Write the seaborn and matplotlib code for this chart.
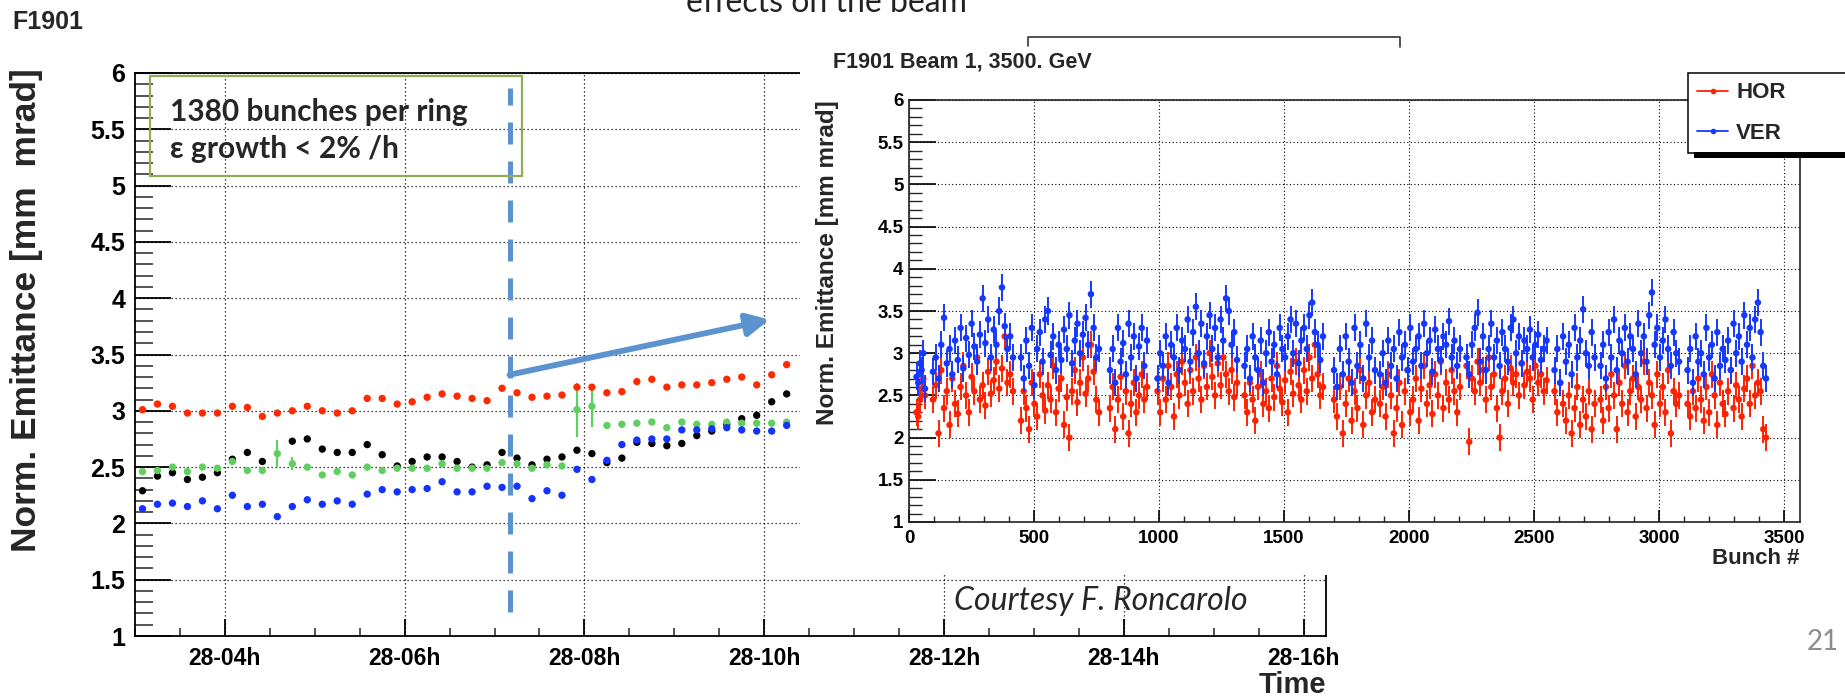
import numpy as np
import pandas as pd
import matplotlib
matplotlib.use("Agg")
import matplotlib.pyplot as plt
import seaborn as sns
from matplotlib.patches import Rectangle
from matplotlib.lines import Line2D
from matplotlib.ticker import MultipleLocator, FixedLocator, FixedFormatter, FuncFormatter

sns.set_theme(style="white")
plt.rcParams['font.family'] = ['Liberation Sans', 'DejaVu Sans']
plt.rcParams['font.weight'] = 'bold'
plt.rcParams['axes.labelweight'] = 'bold'

# ---------------- left plot data: emittance vs time ----------------
time_labels = ["03:05", "03:15", "03:25", "03:35", "03:45", "03:55", "04:05", "04:15", "04:25", "04:35",
               "04:45", "04:55", "05:05", "05:15", "05:25", "05:35", "05:45", "05:55", "06:05", "06:15",
               "06:25", "06:35", "06:45", "06:55", "07:05", "07:15", "07:25", "07:35", "07:45", "07:55",
               "08:05", "08:15", "08:25", "08:35", "08:45", "08:55", "09:05", "09:15", "09:25", "09:35",
               "09:45", "09:55", "10:05", "10:15"]
emit_red = [3.01, 3.06, 3.04, 2.98, 2.98, 2.98, 3.04, 3.03, 2.95, 2.98, 3.00, 3.04, 3.00, 2.98, 3.00,
            3.11, 3.11, 3.06, 3.08, 3.12, 3.15, 3.13, 3.11, 3.09, 3.20, 3.16, 3.12, 3.13, 3.14, 3.21,
            3.21, 3.16, 3.17, 3.26, 3.28, 3.21, 3.23, 3.23, 3.25, 3.28, 3.30, 3.23, 3.32, 3.41]
emit_black = [2.29, 2.42, 2.45, 2.39, 2.41, 2.45, 2.57, 2.63, 2.55, np.nan, 2.73, 2.75, 2.66, 2.63, 2.63,
              2.70, 2.61, 2.51, 2.55, 2.59, 2.59, 2.55, 2.50, 2.52, 2.63, 2.58, 2.52, 2.57, 2.59, 2.65,
              2.62, 2.54, 2.58, 2.72, 2.71, 2.69, 2.71, 2.78, 2.82, 2.88, 2.93, 2.96, 3.08, 3.15]
emit_green = [2.46, 2.47, 2.50, 2.46, 2.50, 2.49, 2.55, 2.47, 2.47, 2.62, 2.53, 2.50, 2.43, 2.46, 2.43,
              2.50, 2.47, 2.49, 2.49, 2.49, 2.53, 2.49, 2.49, 2.49, 2.54, 2.53, 2.49, 2.52, 2.51, 3.01,
              3.04, 2.87, 2.88, 2.89, 2.90, 2.85, 2.90, 2.88, 2.88, 2.90, 2.89, 2.89, 2.89, 2.90]
emit_green_err = [0, 0, 0, 0, 0, 0, 0, 0, 0, 0.12, 0.06, 0, 0, 0, 0, 0, 0, 0, 0, 0, 0, 0, 0, 0, 0, 0,
                  0, 0, 0, 0.24, 0.18, 0, 0, 0, 0, 0, 0, 0, 0, 0, 0, 0, 0, 0]
emit_blue = [2.13, 2.17, 2.18, 2.15, 2.20, 2.13, 2.25, 2.15, 2.17, 2.06, 2.15, 2.21, 2.17, 2.20, 2.17,
             2.26, 2.30, 2.28, 2.30, 2.31, 2.37, 2.28, 2.28, 2.33, 2.32, 2.33, 2.22, 2.29, 2.25, 2.48,
             2.39, 2.56, 2.70, 2.74, 2.75, 2.75, 2.83, 2.83, 2.84, 2.85, 2.83, 2.82, 2.82, 2.87]
time_ticks = [4, 6, 8, 10, 12, 14, 16]
time_tick_labels = ["28-04h", "28-06h", "28-08h", "28-10h", "28-12h", "28-14h", "28-16h"]
marker_time = "07:10"

# ---------------- right plot data: emittance per bunch ----------------
train_first = [30, 96, 448, 804, 994, 1342, 1700, 1884, 2230, 2582, 2766, 3114]
train_last = [64, 416, 760, 952, 1312, 1656, 1864, 2204, 2550, 2742, 3080, 3428]

ver_t0 = [2.72, 2.65, 2.88, 2.80, 3.00, 2.58]
hor_t0 = [2.30, 2.25, 2.45, 2.58, 2.70, 2.50]
ver_t1 = [2.78, 2.95, 2.70, 3.10, 3.42, 2.88, 3.05, 2.75, 3.15, 2.92, 3.30, 2.82, 3.18, 2.98, 3.35,
          3.08, 2.90, 3.22, 3.65, 3.12, 3.40, 2.95, 3.28, 3.10, 3.50, 3.78, 3.32, 3.05, 3.20, 2.95]
hor_t1 = [2.45, 2.62, 2.05, 2.80, 2.35, 2.55, 2.15, 2.70, 2.40, 2.28, 2.60, 2.85, 2.50, 2.30, 2.72,
          2.55, 2.95, 2.45, 2.62, 2.38, 2.78, 2.52, 2.68, 2.90, 2.58, 2.82, 3.20, 2.65, 2.75, 2.55]
ver_t2 = [2.95, 2.70, 3.15, 2.85, 3.30, 2.62, 3.05, 3.25, 2.90, 3.40, 3.50, 2.98, 3.20, 2.80, 3.10,
          2.92, 3.28, 3.05, 3.45, 2.88, 3.15, 3.35, 3.00, 3.22, 3.42, 3.10, 3.70, 3.30, 2.95, 3.05]
hor_t2 = [2.20, 2.55, 2.35, 2.10, 2.65, 2.40, 2.25, 2.75, 2.50, 2.32, 2.62, 2.45, 2.85, 2.30, 2.58,
          2.70, 2.15, 2.48, 2.00, 2.55, 2.80, 2.42, 2.65, 2.95, 2.52, 2.70, 3.10, 2.78, 2.45, 2.30]
ver_t3 = [2.80, 3.05, 2.65, 3.30, 2.90, 3.12, 2.75, 3.35, 2.95, 3.20, 2.70, 3.08, 3.30, 2.85, 3.15]
hor_t3 = [2.35, 2.60, 2.10, 2.45, 2.72, 2.25, 2.55, 2.05, 2.40, 2.65, 2.30, 2.50, 2.75, 2.45, 2.60]
ver_t4 = [2.70, 3.00, 2.85, 3.20, 2.65, 3.10, 2.95, 3.30, 2.80, 3.15, 3.05, 3.40, 2.90, 3.25, 3.55,
          3.00, 3.35, 2.88, 3.20, 3.45, 3.05, 3.30, 2.95, 3.40, 3.15, 3.65, 3.50, 3.10, 3.25, 2.92]
hor_t4 = [2.55, 2.30, 2.70, 2.45, 2.85, 2.60, 2.25, 2.75, 2.50, 2.90, 2.65, 2.40, 2.80, 2.55, 2.95,
          2.70, 2.45, 2.85, 2.60, 3.00, 2.72, 2.50, 2.88, 2.62, 2.95, 2.75, 2.55, 2.80, 2.48, 2.65]
ver_t5 = [2.85, 3.05, 2.70, 3.20, 2.95, 2.80, 3.15, 2.65, 3.00, 3.25, 2.90, 3.10, 2.75, 3.30, 3.05,
          2.95, 3.20, 3.40, 3.00, 3.35, 2.88, 3.15, 3.30, 3.05, 3.45, 3.60, 3.25, 3.10, 2.92, 3.20]
hor_t5 = [2.50, 2.30, 2.65, 2.45, 2.20, 2.60, 2.75, 2.40, 2.55, 2.35, 2.70, 2.48, 2.85, 2.58, 2.42,
          2.68, 2.30, 2.78, 2.52, 2.90, 2.62, 2.45, 2.80, 2.55, 2.95, 2.70, 3.10, 2.75, 2.50, 2.60]
ver_t6 = [2.80, 2.60, 3.05, 2.75, 3.20, 2.90, 2.65, 3.30, 2.85, 3.10, 2.70, 3.35, 2.95, 3.15, 2.80]
hor_t6 = [2.45, 2.25, 2.60, 2.05, 2.40, 2.70, 2.20, 2.55, 2.35, 2.80, 2.15, 2.50, 2.65, 2.30, 2.45]
ver_t7 = [2.75, 3.00, 2.65, 3.15, 2.85, 3.05, 2.70, 3.25, 2.95, 3.10, 2.80, 3.30, 2.90, 3.05, 3.20,
          2.85, 3.35, 3.00, 3.15, 2.78, 3.28, 3.05, 2.92, 3.20, 3.10, 3.38, 2.95, 3.15, 2.85, 3.05]
hor_t7 = [2.40, 2.60, 2.25, 2.75, 2.50, 2.05, 2.35, 2.65, 2.15, 2.55, 2.80, 2.30, 2.45, 2.70, 2.20,
          2.58, 2.85, 2.40, 2.62, 2.28, 2.75, 2.50, 2.90, 2.35, 2.65, 2.45, 2.80, 2.55, 2.30, 2.60]
ver_t8 = [2.95, 2.75, 3.10, 3.30, 3.48, 2.90, 3.20, 2.80, 3.05, 3.35, 2.95, 3.15, 2.85, 3.25, 3.05,
          2.90, 3.30, 3.40, 3.00, 3.20, 2.88, 3.15, 3.05, 3.28, 2.95, 3.10, 3.22, 2.92, 3.05, 3.15]
hor_t8 = [2.85, 1.95, 2.70, 2.55, 2.90, 2.65, 2.80, 2.45, 2.95, 2.60, 2.75, 2.35, 2.00, 2.55, 2.70,
          2.40, 2.82, 2.65, 2.75, 2.50, 2.88, 2.62, 2.78, 2.70, 2.45, 2.85, 2.65, 2.75, 2.55, 2.68]
ver_t9 = [2.80, 3.05, 2.65, 3.20, 2.90, 3.10, 2.75, 3.30, 2.95, 3.15, 3.52, 3.00, 2.85, 3.25, 2.95]
hor_t9 = [2.55, 2.30, 2.65, 2.40, 2.20, 2.50, 2.05, 2.35, 2.60, 2.15, 2.45, 2.25, 2.55, 2.10, 2.40]
ver_t10 = [2.85, 3.10, 2.70, 3.25, 2.95, 3.40, 2.80, 3.15, 3.00, 3.30, 2.90, 3.20, 3.05, 2.75, 3.35,
           3.00, 3.20, 2.90, 3.45, 3.72, 3.10, 3.30, 2.95, 3.15, 3.40, 3.05, 2.85, 3.25, 3.00, 2.90]
hor_t10 = [2.45, 2.20, 2.60, 2.35, 2.75, 2.50, 2.10, 2.65, 2.40, 2.85, 2.30, 2.55, 2.70, 2.25, 2.60,
           2.45, 2.90, 2.35, 2.65, 2.50, 2.15, 2.75, 2.40, 2.60, 2.30, 2.80, 2.05, 2.55, 2.40, 2.50]
ver_t11 = [2.80, 3.05, 2.65, 3.20, 2.90, 3.00, 2.75, 3.30, 2.95, 3.10, 2.70, 3.25, 2.85, 3.05, 2.92,
           3.15, 2.80, 3.35, 3.00, 3.20, 2.90, 3.45, 3.10, 3.30, 2.95, 3.40, 3.60, 3.25, 2.85, 2.70]
hor_t11 = [2.40, 2.25, 2.55, 2.35, 2.70, 2.45, 2.20, 2.60, 2.30, 2.75, 2.50, 2.15, 2.65, 2.40, 2.28,
           2.55, 2.80, 2.35, 2.62, 2.45, 2.25, 2.58, 2.70, 2.40, 2.85, 2.50, 2.65, 2.55, 2.10, 2.00]
hor_err = 0.16
ver_err = 0.16

ver_trains = [ver_t0, ver_t1, ver_t2, ver_t3, ver_t4, ver_t5, ver_t6, ver_t7, ver_t8, ver_t9, ver_t10, ver_t11]
hor_trains = [hor_t0, hor_t1, hor_t2, hor_t3, hor_t4, hor_t5, hor_t6, hor_t7, hor_t8, hor_t9, hor_t10, hor_t11]

# ---------------- styling ----------------
W, H = 1845, 699
C_RED, C_BLACK, C_GREEN, C_BLUE = "#ff2a00", "#000000", "#5fcf5f", "#1433ff"
C_RED2, C_BLUE2 = "#ff2200", "#1538ff"
C_PPT_BLUE = "#5b93cf"
C_PPT_GREEN = "#8fae54"


def fbox(l, t, r, b):
    return [l / W, 1 - b / H, (r - l) / W, (b - t) / H]


def hours(lbl):
    h, m = lbl.split(":")
    return int(h) + int(m) / 60.0


fig = plt.figure(figsize=(W / 100, H / 100), dpi=100)
fig.patch.set_facecolor("white")

# ================= left (time) plot =================
ax1 = fig.add_axes(fbox(135, 73, 1326, 636))
ax1.set_zorder(0)
t = [hours(s) for s in time_labels]
df1 = pd.DataFrame({
    "time": t * 4,
    "emit": emit_red + emit_black + emit_green + emit_blue,
    "series": ["a"] * len(t) + ["b"] * len(t) + ["c"] * len(t) + ["d"] * len(t),
})
ax1.errorbar(t, emit_green, yerr=emit_green_err, fmt="none", ecolor=C_GREEN, elinewidth=1.6, zorder=2)
sns.scatterplot(data=df1, x="time", y="emit", hue="series",
                palette={"a": C_RED, "b": C_BLACK, "c": C_GREEN, "d": C_BLUE},
                s=28, edgecolor="none", legend=False, ax=ax1, zorder=3)
ax1.set_xlim(3.0, 16.25)
ax1.set_ylim(1, 6)
ax1.xaxis.set_major_locator(FixedLocator(time_ticks))
ax1.xaxis.set_major_formatter(FixedFormatter(time_tick_labels))
ax1.xaxis.set_minor_locator(MultipleLocator(0.5))
ax1.yaxis.set_major_locator(MultipleLocator(0.5))
ax1.yaxis.set_minor_locator(MultipleLocator(0.1))
ax1.yaxis.set_major_formatter(FuncFormatter(lambda v, p: f"{v:g}"))
ax1.tick_params(axis="y", which="major", direction="in", length=26, width=1.3, labelsize=18, pad=7,
                left=True, right=False, colors="black")
ax1.tick_params(axis="y", which="minor", direction="in", length=13, width=1.1, left=True, right=False)
ax1.tick_params(axis="x", which="major", direction="in", length=12.5, width=1.3, labelsize=16.5, pad=8,
                bottom=True, top=False, colors="black")
ax1.tick_params(axis="x", which="minor", direction="in", length=6, width=1.1, bottom=True, top=False)
ax1.grid(True, which="major", color="black", linestyle=(0, (1, 2.2)), linewidth=0.9)
for sp in ax1.spines.values():
    sp.set_color("black")
    sp.set_linewidth(1.3)
ax1.set_xlabel("Time", fontsize=21, fontweight="bold")
ax1.xaxis.label.set_ha("right")
ax1.xaxis.label.set_va("top")
ax1.xaxis.set_label_coords(1.0, -0.062)
ax1.set_ylabel("Norm. Emittance [mm  mrad]", fontsize=25.5, fontweight="bold")
ax1.yaxis.label.set_ha("right")
ax1.yaxis.label.set_va("center")
ax1.yaxis.set_label_coords(-0.0915, 1.009)

# annotations on the time plot
mt = hours(marker_time)
ax1.plot([mt, mt], [1.21, 5.87], color=C_PPT_BLUE, lw=3.6, linestyle=(0, (4.4, 3.4)),
         solid_capstyle="butt", dash_capstyle="butt", zorder=4)
ax1.annotate("", xy=(10.06, 3.81), xytext=(mt, 3.32),
             arrowprops=dict(arrowstyle="-|>", color=C_PPT_BLUE, lw=4.2, mutation_scale=34,
                             shrinkA=0, shrinkB=0), zorder=5)

# ---- white background of the pasted per-bunch picture ----
fig.add_artist(Rectangle((800 / W, 1 - 575 / H), (W - 800) / W, (575 - 22) / H,
                         transform=fig.transFigure, facecolor="white", edgecolor="none", zorder=1))

# ================= right (per bunch) plot =================
ax2 = fig.add_axes(fbox(909, 100, 1800, 522))
ax2.set_zorder(2)
bunch, hor_vals, ver_vals = [], [], []
for k in range(len(train_first)):
    b = np.linspace(train_first[k], train_last[k], len(hor_trains[k]))
    bunch.extend(b.tolist())
    hor_vals.extend(hor_trains[k])
    ver_vals.extend(ver_trains[k])
df2 = pd.DataFrame({"bunch": bunch * 2, "emit": hor_vals + ver_vals,
                    "plane": ["HOR"] * len(bunch) + ["VER"] * len(bunch)})
ax2.errorbar(bunch, hor_vals, yerr=hor_err, fmt="none", ecolor=C_RED2, elinewidth=1.4, zorder=2)
ax2.errorbar(bunch, ver_vals, yerr=ver_err, fmt="none", ecolor=C_BLUE2, elinewidth=1.4, zorder=4)
sns.scatterplot(data=df2[df2.plane == "HOR"], x="bunch", y="emit", color=C_RED2, s=22,
                edgecolor="none", legend=False, ax=ax2, zorder=3)
sns.scatterplot(data=df2[df2.plane == "VER"], x="bunch", y="emit", color=C_BLUE2, s=22,
                edgecolor="none", legend=False, ax=ax2, zorder=5)
ax2.set_xlim(0, 3564)
ax2.set_ylim(1, 6)
ax2.xaxis.set_major_locator(MultipleLocator(500))
ax2.xaxis.set_minor_locator(MultipleLocator(100))
ax2.yaxis.set_major_locator(MultipleLocator(0.5))
ax2.yaxis.set_minor_locator(MultipleLocator(0.1))
ax2.yaxis.set_major_formatter(FuncFormatter(lambda v, p: f"{v:g}"))
ax2.xaxis.set_major_formatter(FuncFormatter(lambda v, p: f"{v:g}"))
ax2.tick_params(axis="y", which="major", direction="in", length=19.5, width=1.2, labelsize=13.5, pad=4,
                left=True, right=False, colors="black")
ax2.tick_params(axis="y", which="minor", direction="in", length=9.5, width=1.0, left=True, right=False)
ax2.tick_params(axis="x", which="major", direction="in", length=9, width=1.2, labelsize=13.5, pad=6,
                bottom=True, top=False, colors="black")
ax2.tick_params(axis="x", which="minor", direction="in", length=4.5, width=1.0, bottom=True, top=False)
ax2.grid(True, which="major", color="black", linestyle=(0, (1, 2.2)), linewidth=0.8)
for sp in ax2.spines.values():
    sp.set_color("#222222")
    sp.set_linewidth(1.2)
ax2.set_xlabel("Bunch #", fontsize=16, fontweight="bold")
ax2.xaxis.label.set_ha("right")
ax2.xaxis.label.set_va("top")
ax2.xaxis.set_label_coords(1.0, -0.062)
ax2.set_ylabel("Norm. Emittance [mm mrad]", fontsize=17.5, fontweight="bold")
ax2.yaxis.label.set_ha("right")
ax2.yaxis.label.set_va("center")
ax2.yaxis.set_label_coords(-0.091, 1.0)

# legend of the per-bunch plot
handles = [Line2D([], [], color=C_RED2, marker="o", markersize=3, lw=1.3),
           Line2D([], [], color=C_BLUE2, marker="o", markersize=3, lw=1.3)]
leg = fig.legend(handles, ["HOR", "VER"], loc="upper left",
                 bbox_to_anchor=(1688 / W, 1 - 152 / H, 220 / W, 79 / H), mode="expand",
                 frameon=True, fancybox=False, edgecolor="black", framealpha=1, fontsize=16,
                 handlelength=1.4, handletextpad=0.35, borderpad=0.42, labelspacing=0.88,
                 borderaxespad=0)
leg.get_frame().set_linewidth(1.1)
leg.set_zorder(10)
fig.add_artist(Rectangle((1694 / W, 1 - 158 / H), (W - 1694) / W, 6 / H, transform=fig.transFigure,
                         facecolor="black", edgecolor="none", zorder=11))

# inset title and bracket
fig.text(833 / W, 1 - 62 / H, "F1901 Beam 1, 3500. GeV", fontsize=15.5, ha="left", va="center", zorder=6)
fig.add_artist(Line2D([1028 / W, 1028 / W, 1400 / W, 1400 / W],
                      [1 - 46 / H, 1 - 37 / H, 1 - 37 / H, 1 - 47 / H],
                      transform=fig.transFigure, color="#333333", lw=1.2, zorder=6))

# ================= slide decorations =================
fig.text(12 / W, 1 - 22 / H, "F1901", fontsize=18, ha="left", va="center")
fig.text(686 / W, 1 - 12 / H, "effects on the beam", fontsize=23, family=["Lato", "DejaVu Sans"],
         fontweight="normal", ha="left", va="baseline", color="#222222", zorder=7)
fig.add_artist(Rectangle((150 / W, 1 - 176 / H), 372 / W, 100 / H, transform=fig.transFigure,
                         facecolor="none", edgecolor=C_PPT_GREEN, lw=1.6, zorder=6))
fig.text(170 / W, 1 - 112 / H, "1380 bunches per ring", fontsize=21.5, family=["Lato", "DejaVu Sans"],
         fontweight="bold", ha="left", va="center", zorder=6)
fig.text(170 / W, 1 - 149 / H, "\u03b5 growth < 2% /h", fontsize=21.5, family=["Lato", "DejaVu Sans"],
         fontweight="bold", ha="left", va="center", zorder=6)
fig.text(954 / W, 1 - 601 / H, "Courtesy F. Roncarolo", fontsize=23, family=["Lato", "DejaVu Sans"],
         fontweight="normal", style="italic", ha="left", va="center", zorder=6)
fig.text(1823 / W, 1 - 642 / H, "21", fontsize=20, family=["Lato", "DejaVu Sans"],
         fontweight="normal", color="#8c8c8c", ha="center", va="center")

fig.savefig("out.png", dpi=100, facecolor="white")
